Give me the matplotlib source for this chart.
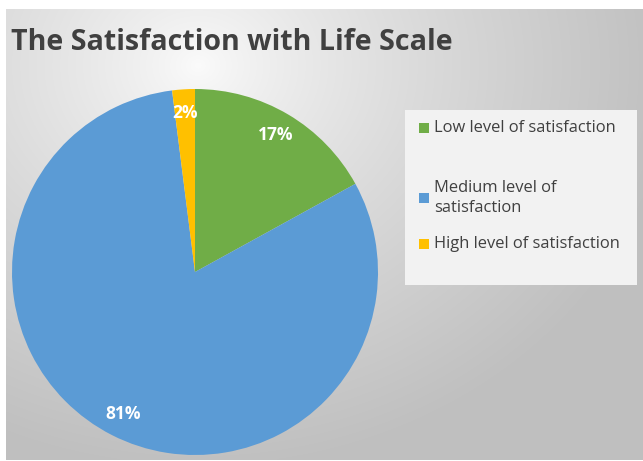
import numpy as np
import matplotlib
matplotlib.use("Agg")
import matplotlib.pyplot as plt
from matplotlib.patches import Rectangle

categories = ["Low level of satisfaction", "Medium level of\nsatisfaction", "High level of satisfaction"]
values = [17, 81, 2]
colors = ["#70AD47", "#5B9BD5", "#FFC000"]
title = "The Satisfaction with Life Scale"

W, H = 643, 461
fig = plt.figure(figsize=(W / 100, H / 100), dpi=100)
fig.patch.set_facecolor("white")

# background gradient panel
bg = fig.add_axes([6 / W, 1 / H, (W - 6) / W, (H - 10) / H])
yy, xx = np.mgrid[0:200, 0:300]
cx, cy = 90, 25
d = np.sqrt(((xx - cx) / 300.0) ** 2 + ((yy - cy) / 200.0) ** 2 * 0.7)
val = 0.985 - 0.235 * np.clip(d / 0.75, 0, 1) ** 0.8
img = np.dstack([val, val, val])
bg.imshow(img, aspect="auto", extent=[0, 1, 0, 1], origin="upper", interpolation="bilinear")
bg.set_axis_off()

# pie
ax = fig.add_axes([12 / W, 6 / H, 366 / W, 366 / H])
wedges, texts, autotexts = ax.pie(
    values, colors=colors, startangle=90, counterclock=False,
    autopct="%1.0f%%", pctdistance=0.87,
    textprops=dict(color="white", fontsize=12.5, fontweight="bold", family="Open Sans"),
    wedgeprops=dict(linewidth=0),
)
ax.set_aspect("equal")
ax.set_xlim(-1, 1)
ax.set_ylim(-1, 1)
ax.set_axis_off()

# title
fig.text(11 / W, 1 - 50 / H, title, fontsize=20.6, fontweight="bold", color="#404040",
         family="Open Sans", ha="left", va="baseline")

# legend box
lx0, ly0, lx1, ly1 = 405, 110, 637, 285
fig.add_artist(Rectangle((lx0 / W, 1 - ly1 / H), (lx1 - lx0) / W, (ly1 - ly0) / H,
                         transform=fig.transFigure, facecolor="#f2f2f2", edgecolor="none"))
rows_y = [128, 198, 244]
for lab, c, y in zip(categories, colors, rows_y):
    fig.add_artist(Rectangle((419 / W, 1 - (y + 5) / H), 10 / W, 10 / H,
                             transform=fig.transFigure, facecolor=c, edgecolor="none"))
    fig.text(434 / W, 1 - y / H, lab, fontsize=11.9, color="#404040", family="Open Sans",
             ha="left", va="center", linespacing=1.4)

fig.savefig("out.png", dpi=100)
